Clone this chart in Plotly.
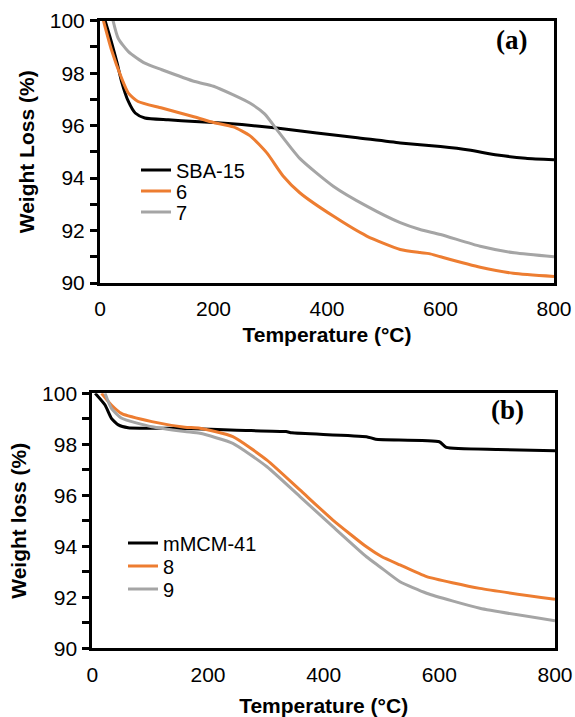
import plotly.graph_objects as go

# ---------------- data: panel (a) ----------------
T_sba15 = [9, 20, 30, 38, 50, 62, 79, 120, 167, 200, 250, 311, 382, 450, 529, 600, 650, 700, 750, 800]
W_sba15 = [100, 99.2, 98.4, 97.68, 96.92, 96.48, 96.29, 96.22, 96.16, 96.12, 96.04, 95.91, 95.72, 95.55,
           95.34, 95.2, 95.07, 94.88, 94.76, 94.7]

T_6 = [6, 20, 38, 50, 67, 109, 167, 200, 235, 264, 294, 323, 352, 411, 470, 529, 564, 580, 600, 670, 728, 800]
W_6 = [100, 98.9, 97.81, 97.24, 96.92, 96.67, 96.33, 96.12, 95.95, 95.62, 94.96, 94.07, 93.44, 92.55,
       91.79, 91.28, 91.16, 91.12, 91.0, 90.6, 90.37, 90.25]

T_7 = [23, 32, 50, 79, 109, 167, 200, 235, 264, 290, 315, 352, 411, 470, 529, 564, 600, 670, 730, 800]
W_7 = [100, 99.33, 98.82, 98.38, 98.13, 97.68, 97.5, 97.17, 96.86, 96.45, 95.75, 94.75, 93.69, 92.93,
       92.3, 92.04, 91.85, 91.4, 91.15, 91.0]

# ---------------- data: panel (b) ----------------
T_mcm = [5, 22, 33, 45, 62, 160, 250, 335, 345, 474, 490, 600, 612, 700, 800]
W_mcm = [100, 99.54, 99.02, 98.76, 98.65, 98.62, 98.55, 98.5, 98.45, 98.3, 98.2, 98.1, 97.88, 97.8, 97.75]

T_8 = [16, 33, 51, 103, 160, 186, 243, 302, 359, 416, 474, 500, 532, 578, 670, 800]
W_8 = [100, 99.54, 99.2, 98.89, 98.67, 98.63, 98.3, 97.38, 96.21, 95.03, 93.98, 93.6, 93.27, 92.81,
       92.35, 91.92]

T_9 = [22, 33, 51, 103, 160, 186, 243, 302, 359, 416, 474, 497, 532, 578, 670, 800]
W_9 = [100, 99.41, 99.02, 98.69, 98.5, 98.43, 98.04, 97.12, 95.95, 94.77, 93.59, 93.2, 92.61, 92.16,
       91.57, 91.08]

names_a = ["SBA-15", "6", "7"]
names_b = ["mMCM-41", "8", "9"]
x_ticks = [0, 200, 400, 600, 800]
y_ticks = [90, 92, 94, 96, 98, 100]

BLACK = "#000000"
ORANGE = "#ED7D31"
GRAY = "#A5A5A5"
FONT = "Arial, Liberation Sans, sans-serif"

W, H = 575, 717

fig = go.Figure()

# one single-item legend per entry so the row spacing can match the reference
legend_ids_a = ["legend", "legend2", "legend3"]
legend_ids_b = ["legend4", "legend5", "legend6"]

series_a = [(T_sba15, W_sba15, BLACK), (T_6, W_6, ORANGE), (T_7, W_7, GRAY)]
for (t, w, c), n, lg in zip(series_a, names_a, legend_ids_a):
    fig.add_trace(go.Scatter(x=t, y=w, name=n, mode="lines",
                             line=dict(color=c, width=3, shape="spline", smoothing=0.6),
                             xaxis="x", yaxis="y", legend=lg))

series_b = [(T_mcm, W_mcm, BLACK), (T_8, W_8, ORANGE), (T_9, W_9, GRAY)]
for (t, w, c), n, lg in zip(series_b, names_b, legend_ids_b):
    fig.add_trace(go.Scatter(x=t, y=w, name=n, mode="lines",
                             line=dict(color=c, width=3, shape="spline", smoothing=0.5),
                             xaxis="x2", yaxis="y2", legend=lg))


def xax(domain, anchor, title, title_standoff):
    return dict(domain=domain, anchor=anchor, range=[0, 800], tickvals=x_ticks,
                showline=True, linewidth=3, linecolor="black", mirror=True,
                ticks="", showgrid=False, zeroline=False, automargin=False,
                tickfont=dict(family=FONT, size=21, color="black"),
                ticklabelstandoff=5,
                title=dict(text=title, standoff=title_standoff,
                           font=dict(family=FONT, size=21, color="black", weight="bold")))


def yax(domain, anchor, title):
    return dict(domain=domain, anchor=anchor, range=[90, 100], tickvals=y_ticks,
                showline=True, linewidth=3, linecolor="black", mirror=True,
                ticks="outside", ticklen=7, tickwidth=2.5, tickcolor="black",
                minor=dict(dtick=1, tick0=90, ticks="outside", ticklen=7, tickwidth=2.5, tickcolor="black"),
                showgrid=False, zeroline=False, automargin=False,
                tickfont=dict(family=FONT, size=21, color="black"),
                ticklabelstandoff=1,
                title=dict(text=title, standoff=10,
                           font=dict(family=FONT, size=21, color="black", weight="bold")))


def leg(x_px, y_px):
    return dict(x=x_px / W, y=1 - y_px / H, xanchor="left", yanchor="middle",
                bgcolor="rgba(0,0,0,0)", borderwidth=0,
                font=dict(family=FONT, size=20, color="black"))


fig.update_layout(
    width=W, height=H,
    margin=dict(l=0, r=0, t=0, b=0),
    paper_bgcolor="white", plot_bgcolor="white",
    xaxis=xax([100 / W, 554 / W], "y", "Temperature (°C)", 9),
    yaxis=yax([1 - 283 / H, 1 - 20.7 / H], "x", "Weight Loss (%)"),
    xaxis2=xax([92.3 / W, 555 / W], "y2", "Temperature (°C)", 15),
    yaxis2=yax([1 - 648.3 / H, 1 - 393.3 / H], "x2", "Weight loss (%)"),
    legend=leg(136, 170),
    legend2=leg(136, 191),
    legend3=leg(136, 212),
    legend4=leg(123, 543),
    legend5=leg(123, 566),
    legend6=leg(123, 589),
    showlegend=True,
    annotations=[
        dict(text="(a)", x=511 / W, y=1 - 40 / H, xref="paper", yref="paper",
             showarrow=False, xanchor="center", yanchor="middle",
             font=dict(family="Liberation Serif, Times New Roman, serif", size=27, color="black",
                       weight="bold")),
        dict(text="(b)", x=507 / W, y=1 - 410 / H, xref="paper", yref="paper",
             showarrow=False, xanchor="center", yanchor="middle",
             font=dict(family="Liberation Serif, Times New Roman, serif", size=27, color="black",
                       weight="bold")),
    ],
)

fig.write_html("out.html",
               config={"displayModeBar": False},
               post_script="document.body.style.margin='0';document.body.style.overflow='hidden';")
